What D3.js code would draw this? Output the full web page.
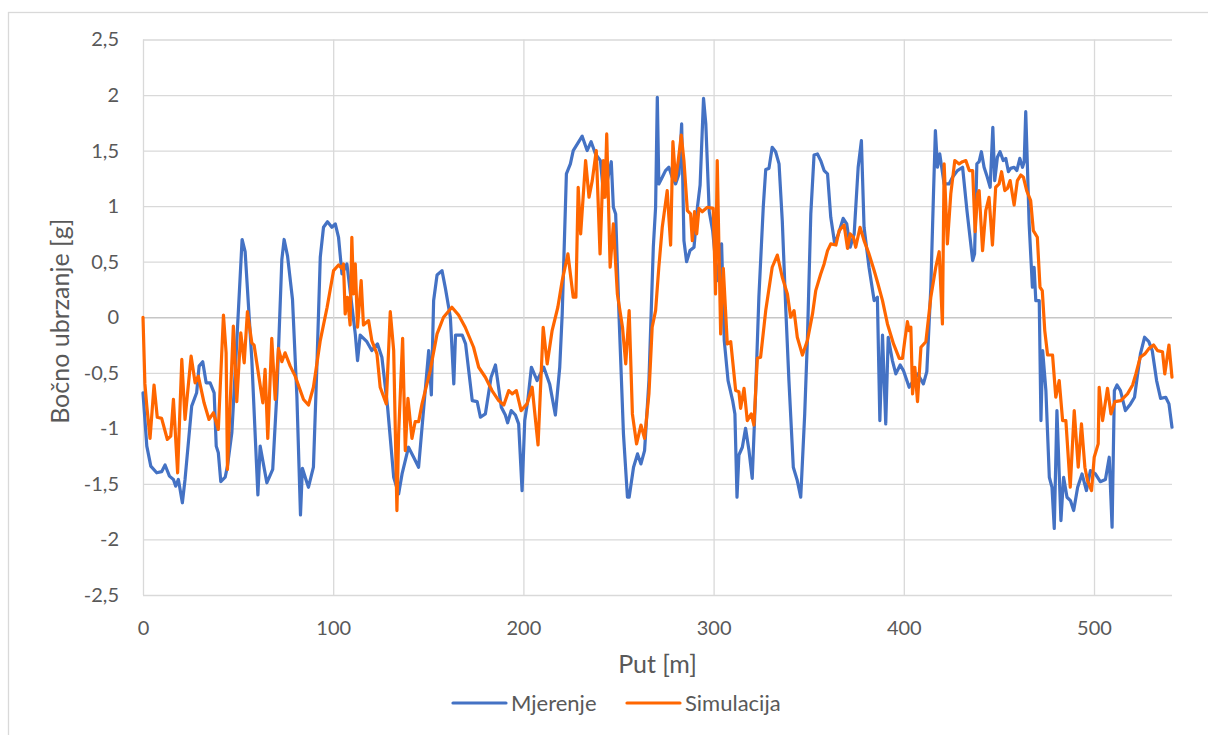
<!DOCTYPE html>
<html>
<head>
<meta charset="utf-8">
<script src="https://cdn.jsdelivr.net/npm/d3@7"></script>
<style>
  body { margin: 0; background: #fff; }
  svg { display: block; font-family: Lato, "Open Sans", sans-serif; }
</style>
</head>
<body>
<svg id="chart" width="1208" height="735"></svg>
<script>
// Put [m] / Bočno ubrzanje [g]
var mjerenje = [
  [0,-0.68],[2,-1.16],[4.1,-1.34],[7.2,-1.4],[9.8,-1.39],[11.6,-1.33],[13.9,-1.43],[16,-1.46],[17.2,-1.52],
  [18.6,-1.46],[20.7,-1.67],[22.1,-1.46],[25.6,-0.8],[28.2,-0.68],[29.5,-0.44],[31.4,-0.4],[33.2,-0.59],
  [35.3,-0.59],[37.4,-0.68],[38.5,-1.16],[39.6,-1.22],[40.9,-1.48],[43.2,-1.44],[44.4,-1.34],[46.7,-1.04],
  [49,-0.32],[52.1,0.7],[53.7,0.59],[57.2,-0.38],[60.4,-1.6],[61.6,-1.16],[65.1,-1.49],[68.2,-1.37],
  [70.4,-0.68],[73,0.52],[74.2,0.7],[76,0.55],[78.6,0.16],[80.9,-0.71],[82.8,-1.78],[83.8,-1.36],
  [86.2,-1.49],[87,-1.53],[89.6,-1.35],[91.4,-0.45],[93.2,0.54],[94.9,0.81],[97,0.86],[99.3,0.81],
  [101.1,0.84],[102.8,0.72],[104.6,0.39],[107.2,0.48],[111.6,-0.15],[112.8,-0.39],[114.2,-0.16],
  [117.7,-0.22],[120.3,-0.3],[123.3,-0.24],[125.6,-0.36],[128.6,-0.81],[131.8,-1.44],[134.4,-1.59],
  [136.2,-1.41],[139.6,-1.17],[142.3,-1.26],[144.9,-1.35],[150.2,-0.3],[151.6,-0.7],[152.8,0.15],
  [154.6,0.38],[157.2,0.42],[159,0.26],[161.6,0],[163.4,-0.6],[164.3,-0.16],[167.8,-0.16],[169.6,-0.24],
  [173.1,-0.75],[175.7,-0.76],[177.4,-0.9],[180,-0.87],[183,-0.54],[185.3,-0.43],[188.4,-0.81],
  [190.5,-0.88],[191.7,-0.95],[193.6,-0.84],[195.8,-0.88],[197.5,-0.96],[199.3,-1.56],[200.7,-0.93],
  [202.3,-0.75],[204.2,-0.45],[207.2,-0.57],[210.7,-0.45],[213.8,-0.6],[216.8,-0.88],[219.1,-0.45],
  [220.4,0.03],[222.6,1.29],[224.7,1.38],[226.2,1.5],[230.9,1.63],[233.5,1.5],[235.6,1.58],[237.9,1.47],
  [240.5,1.41],[242.3,1.08],[246.2,1.4],[247.3,0.99],[248.5,0.93],[250.3,0],[252.6,-1.05],[254.7,-1.62],
  [255.6,-1.62],[257.9,-1.35],[260,-1.23],[261.8,-1.32],[263.7,-1.2],[266,-0.57],[268.3,0.63],
  [269.5,0.99],[270.4,1.98],[271.2,1.2],[273,1.26],[274.7,1.32],[276.5,1.35],[278.2,1.26],[280,1.2],
  [281.8,1.29],[283.2,1.74],[284.4,0.69],[285.8,0.5],[287.6,0.6],[289.7,0.63],[291.5,0.99],[292.9,1.19],
  [294.7,1.97],[295.9,1.74],[297.7,0.95],[299.5,0.78],[302,0.33],[304.2,0.66],[305.6,-0.21],[307.6,-0.57],
  [310,-0.75],[311.2,-0.87],[312.3,-1.62],[313.3,-1.24],[315.1,-1.17],[316.8,-1.0],[318.6,-1.2],
  [320.3,-1.45],[322,-0.72],[323.8,0.18],[326.1,0.99],[327.4,1.33],[329.1,1.34],[330.8,1.53],[332.6,1.49],
  [334.4,1.38],[336.1,0.87],[337.9,0.09],[339.6,-0.57],[341.9,-1.35],[344,-1.47],[345.8,-1.62],
  [347.9,-0.87],[349.3,-0.21],[351.1,0.93],[352.8,1.46],[354.6,1.47],[356.3,1.41],[358.1,1.32],
  [359.9,1.29],[361.6,0.9],[363.7,0.66],[366,0.77],[368.1,0.89],[370,0.84],[371.8,0.63],[373.9,0.75],
  [376,1.35],[377.7,1.59],[379.1,0.81],[381.7,0.45],[384.4,0.15],[386.1,0.18],[387.4,-0.93],[388.8,-0.16],
  [390.5,-0.96],[391.8,-0.18],[394,-0.39],[395.8,-0.51],[398.1,-0.43],[399.8,-0.48],[402.8,-0.63],
  [407.2,-0.51],[410.3,-0.6],[412.1,-0.49],[414.2,0.27],[415.6,1.11],[416.6,1.68],[417.7,1.35],
  [418.9,1.47],[421.2,1.2],[423.8,1.2],[425.6,1.26],[428.2,1.32],[430.9,1.35],[433.2,0.96],[436.2,0.51],
  [437.2,0.57],[438.4,1.38],[439.6,1.4],[440.8,1.49],[442.2,1.35],[443.9,1.26],[445.4,1.17],[446.8,1.71],
  [447.8,1.23],[449.2,1.44],[450.6,1.49],[452.3,1.41],[453.6,1.43],[455,1.31],[456.2,1.34],[458,1.35],
  [459.4,1.32],[461,1.43],[462.4,1.35],[463.3,1.4],[464.1,1.85],[465,1.35],[465.9,0.84],[467.6,0.27],
  [468.5,0.45],[469.4,0.15],[471.2,0.15],[472.1,-0.93],[473,-0.3],[474.7,-0.66],[476.5,-1.44],
  [477.9,-1.53],[479.1,-1.9],[480.5,-0.84],[482.6,-1.83],[484,-1.44],[485.8,-1.62],[487.6,-1.65],
  [489.3,-1.74],[491.4,-1.53],[493.7,-1.41],[496,-1.56],[498.1,-1.38],[500.7,-1.41],[503.3,-1.48],
  [506,-1.46],[508,-1.26],[509.5,-1.89],[510.7,-0.66],[512.1,-0.61],[513.9,-0.66],[516.5,-0.84],
  [519.2,-0.78],[521.3,-0.72],[522.7,-0.54],[524.4,-0.33],[526.6,-0.18],[528.8,-0.22],[530.6,-0.3],
  [532.9,-0.57],[535,-0.73],[537.7,-0.72],[539.4,-0.78],[541,-0.99]
];

var simulacija = [
  [0,0],[1,-0.6],[2,-0.8],[3.7,-1.09],[5.8,-0.61],[7.5,-0.9],[9.8,-0.91],[12.8,-1.1],[14.6,-1.07],
  [16,-0.74],[18.2,-1.4],[20.4,-0.38],[22.1,-0.92],[25.3,-0.35],[27.4,-0.59],[29.1,-0.53],[32.1,-0.77],
  [34.7,-0.92],[37,-0.86],[39.6,-1.01],[42.3,0.02],[43.7,-0.32],[44.4,-1.37],[47.5,-0.08],[49.3,-0.76],
  [51.4,-0.14],[53.2,-0.41],[54.9,0.05],[57.2,-0.23],[58.4,-0.25],[63,-0.77],[64.2,-0.47],[65.6,-1.09],
  [67.7,-0.19],[69.5,-0.74],[71.2,-0.28],[73,-0.4],[74.7,-0.32],[77.4,-0.44],[80,-0.53],[84.4,-0.74],
  [87,-0.79],[89.6,-0.63],[93.2,-0.21],[96.8,0.09],[100.2,0.42],[102.8,0.47],[104.6,0.44],[105.4,0.48],
  [106.3,0.03],[107.5,0.18],[108.9,-0.07],[109.8,0.72],[110.7,0.21],[111.6,0.48],[112.8,-0.09],
  [114.7,0.33],[115.9,-0.07],[118.6,-0.03],[120.3,-0.21],[123,-0.33],[124.7,-0.63],[127.9,-0.78],
  [130,0.05],[131.8,-0.3],[133.5,-1.74],[134.4,-1.05],[136.5,-0.19],[137.9,-1.2],[139.3,-0.73],
  [141.4,-1.09],[143.1,-0.94],[144.9,-0.94],[146.7,-0.78],[151,-0.48],[154.6,-0.15],[158,0],[162.4,0.09],
  [165.9,0.02],[169.4,-0.09],[173.8,-0.27],[176.5,-0.45],[180,-0.54],[183.5,-0.66],[187,-0.75],
  [189.7,-0.79],[192.3,-0.66],[194.1,-0.69],[196.3,-0.66],[198.8,-0.84],[201.9,-0.78],[204.6,-0.63],
  [207.7,-1.15],[210.4,-0.09],[212.5,-0.42],[215.1,-0.12],[218.1,0.09],[220.4,0.33],[223.4,0.57],
  [226.2,0.18],[227.6,0.18],[228.8,1.17],[230.1,0.75],[232.7,1.41],[234.5,1.08],[236.2,1.23],[238.3,1.5],
  [240.3,0.57],[242,1.41],[242.9,1.08],[243.8,1.65],[245.6,0.45],[247.3,0.84],[249.4,0.21],[252.1,-0.09],
  [253.8,-0.42],[255.6,0.06],[257.3,-0.87],[259.5,-1.14],[261.8,-0.97],[263.7,-1.09],[266,-0.69],
  [267.7,-0.09],[269.5,0.06],[271.2,0.45],[273,0.81],[275.6,1.14],[277.4,0.65],[278.6,1.58],[280,1.23],
  [281.4,1.41],[283,1.64],[284.4,1.41],[286.2,0.96],[287.9,0.93],[288.8,0.69],[290,0.95],[291.1,0.75],
  [292.3,0.98],[294,0.95],[296.7,0.99],[299.8,0.98],[301,0.21],[301.9,1.41],[303.7,-0.15],[305.1,0.44],
  [307.2,-0.24],[309,-0.22],[311.6,-0.66],[313.3,-0.67],[314.2,-0.82],[316,-0.64],[317.7,-0.93],
  [319.8,-0.87],[321.2,-0.97],[323,-0.37],[324.7,-0.36],[327.4,0.06],[330.8,0.45],[333.5,0.56],
  [336.1,0.36],[338.8,0.21],[340.5,0],[342.3,0.06],[344,-0.18],[346.7,-0.34],[349.3,-0.21],[352,0.03],
  [353.7,0.24],[356.3,0.39],[358.1,0.48],[359.9,0.6],[361.6,0.66],[364.3,0.65],[366,0.78],[368.6,0.83],
  [370.4,0.62],[371.8,0.75],[373.5,0.72],[374.7,0.63],[377,0.81],[379.1,0.69],[381.7,0.57],[384.4,0.42],
  [386.1,0.32],[388.8,0.15],[391.4,-0.06],[394.6,-0.24],[397.6,-0.37],[399.3,-0.37],[400.5,-0.21],
  [401.9,-0.04],[402.8,-0.12],[403.7,-0.09],[404.6,-0.69],[405.8,-0.45],[407.2,-0.76],[409,-0.27],
  [411.6,-0.22],[414.2,0.18],[416.8,0.45],[418.6,0.59],[420.3,-0.06],[421.2,1.38],[422.9,0.66],
  [424.7,1.11],[426.8,1.41],[429.1,1.38],[430.9,1.4],[432.6,1.41],[434.4,1.32],[436.2,1.32],[437.5,0.77],
  [438.8,1.11],[439.6,1.14],[441.4,0.6],[443.1,0.96],[444.8,1.08],[446.6,0.65],[448.3,1.17],[450.1,1.2],
  [451.4,1.31],[453.1,1.14],[454.5,1.16],[455.9,1.23],[458,1.01],[459.7,1.23],[461.5,1.28],[462.9,1.26],
  [464.6,1.14],[466.7,1.05],[468.1,0.78],[470.2,0.72],[471.6,0.27],[472.8,0.24],[474.1,-0.12],
  [475.6,-0.34],[478.2,-0.34],[479.9,-0.72],[481.7,-0.57],[483.5,-0.93],[485.2,-0.93],[487.5,-1.53],
  [489.6,-0.84],[491.7,-1.35],[493.4,-0.96],[495.2,-1.35],[496.6,-1.47],[498.7,-1.56],[500.1,-1.26],
  [502.2,-1.14],[502.7,-0.63],[504.5,-0.93],[507.1,-0.64],[508.9,-0.87],[511,-0.76],[514.1,-0.75],
  [517.6,-0.69],[520.3,-0.61],[522,-0.51],[524.3,-0.36],[526.7,-0.33],[529,-0.28],[531.3,-0.25],
  [533.4,-0.3],[536,-0.31],[537.2,-0.51],[539.4,-0.25],[541,-0.54]
];

var xTicks = [0, 100, 200, 300, 400, 500];
var yTicks = [-2.5, -2, -1.5, -1, -0.5, 0, 0.5, 1, 1.5, 2, 2.5];
var seriesNames = ["Mjerenje", "Simulacija"];
var seriesColors = ["#4472C4", "#FF6600"];

var svg = d3.select("#chart");
// plot box (note: "top" is taken by window, so prefixed names)
var plotL = 143, plotR = 1172, plotT = 39.5, plotB = 595;

// outer chart frame (right/bottom edges fall outside the picture)
svg.append("rect")
  .attr("x", 8.5).attr("y", 12.5)
  .attr("width", 1220).attr("height", 760)
  .attr("fill", "#fff").attr("stroke", "#D9D9D9").attr("stroke-width", 1.3);

var x = d3.scaleLinear().domain([0, 541]).range([plotL, plotR]);
var y = d3.scaleLinear().domain([-2.5, 2.5]).range([plotB, plotT]);

// excel style: decimal comma, plain hyphen for minus
var fmt = function(d) { return String(d).replace(".", ","); };

// horizontal gridlines + y labels
var yAxis = svg.append("g")
  .attr("transform", "translate(" + plotL + ",0)")
  .call(d3.axisLeft(y).tickValues(yTicks).tickSize(-(plotR - plotL)).tickPadding(24).tickFormat(fmt));
yAxis.select(".domain").remove();
yAxis.selectAll(".tick line")
  .attr("stroke", function(d) { return d == 0 ? "#C6C6C6" : "#D9D9D9"; })
  .attr("stroke-width", 1.3);
yAxis.selectAll(".tick text")
  .attr("fill", "#595959").style("font-size", "20px").style("font-family", "Lato, sans-serif");

// vertical gridlines + x labels
var xAxis = svg.append("g")
  .attr("transform", "translate(0," + plotB + ")")
  .call(d3.axisBottom(x).tickValues(xTicks).tickSize(-(plotB - plotT)).tickFormat(d3.format("d")));
xAxis.select(".domain").remove();
xAxis.selectAll(".tick line").attr("stroke", "#D9D9D9").attr("stroke-width", 1.3);
xAxis.selectAll(".tick text")
  .attr("y", 26)
  .attr("fill", "#595959").style("font-size", "20px").style("font-family", "Lato, sans-serif");

// axis titles
svg.append("text")
  .attr("x", (plotL + plotR) / 2).attr("y", 673)
  .attr("text-anchor", "middle").attr("fill", "#595959")
  .style("font-size", "25px")
  .text("Put [m]");
svg.append("text")
  .attr("transform", "translate(69," + ((plotT + plotB) / 2 + 4) + ") rotate(-90)")
  .attr("text-anchor", "middle").attr("fill", "#595959")
  .style("font-size", "25px")
  .text("Bočno ubrzanje [g]");

var line = d3.line()
  .x(function(d) { return x(d[0]); })
  .y(function(d) { return y(d[1]); });

[mjerenje, simulacija].forEach(function(s, i) {
  svg.append("path")
    .datum(s)
    .attr("d", line)
    .attr("fill", "none")
    .attr("stroke", seriesColors[i])
    .attr("stroke-width", 3.2)
    .attr("stroke-linejoin", "round")
    .attr("stroke-linecap", "round");
});

// legend
var legendX = [453, 627];
var leg = svg.append("g");
seriesNames.forEach(function(n, i) {
  leg.append("line")
    .attr("x1", legendX[i]).attr("x2", legendX[i] + 53)
    .attr("y1", 703).attr("y2", 703)
    .attr("stroke", seriesColors[i]).attr("stroke-width", 3.2).attr("stroke-linecap", "round");
  leg.append("text")
    .attr("x", legendX[i] + 58).attr("y", 711)
    .attr("fill", "#595959").style("font-size", "22px")
    .text(n);
});
</script>
</body>
</html>
